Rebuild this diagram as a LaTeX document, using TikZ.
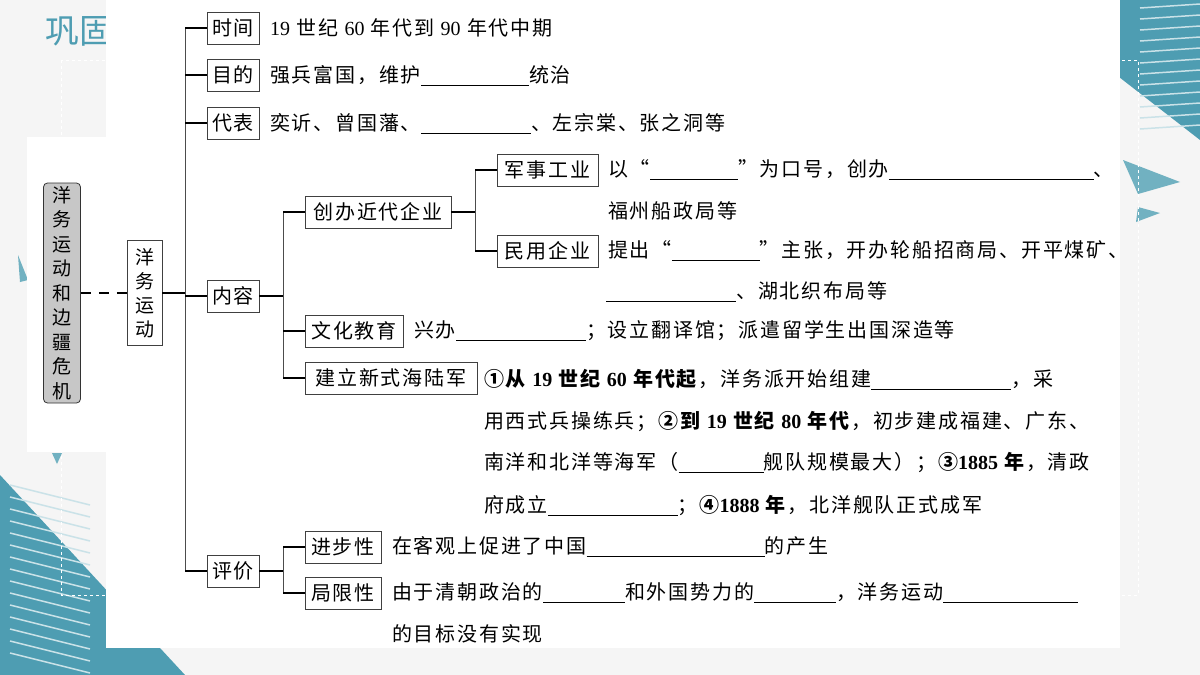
\documentclass[tikz,border=0pt]{standalone}
\usepackage{fontspec}
\setmainfont{Noto Sans CJK SC}[LetterSpace=9]
\newfontfamily\numfont{Liberation Serif}
\newfontfamily\titlefont{Noto Sans CJK SC}
\begin{document}
\begin{tikzpicture}[x=1pt,y=-1pt,
  lbl/.style={draw=black!75,line width=0.7pt,fill=white,inner sep=0pt,minimum height=32pt,font=\fontsize{20}{20}\selectfont},
  txt/.style={anchor=west,inner sep=0pt,font=\fontsize{20}{20}\selectfont},
  conn/.style={line width=1.2pt},
  trunk/.style={line width=0.6pt,black!70}]
\newcommand{\blk}[1]{\rule[-3pt]{#1pt}{0.5pt}}
\newcommand{\nm}[1]{{\numfont #1}}
\definecolor{teal1}{HTML}{4E9DB2}
\useasboundingbox (0,0) rectangle (1200,675);
\fill[black!4] (0,0) rectangle (1200,675);
% decorations
\fill[teal1] (1110,0) -- (1200,0) -- (1200,140) -- (1110,70) -- cycle;
\foreach \i in {0,...,11} \draw[white!70!teal1,line width=1.5pt] (1140,8+\i*11) -- (1200,4+\i*11);
\fill[teal1!80] (1123,160) -- (1180,182) -- (1138,194) -- cycle;
\fill[teal1!80] (1138,207) -- (1160,213) -- (1136,222) -- cycle;
\fill[teal1] (0,475) -- (0,675) -- (185,675) -- cycle;
\foreach \i in {0,...,14} \draw[white!70!teal1,line width=1.5pt] (10,485+\i*12) -- (90,505+\i*12);
\fill[teal1!80] (18,255) -- (28,280) -- (20,282) -- cycle;
\fill[teal1!80] (52,453) -- (62,453) -- (57,464) -- cycle;
\fill[teal1!80] (237,625) -- (250,625) -- (243,640) -- cycle;
\draw[white,line width=1pt,dashed] (61,60) rectangle (1138,595);
\node[anchor=west,text=teal1,inner sep=0pt,font=\titlefont\fontsize{34}{34}\selectfont] (title) at (45,31) {巩固};
\fill[white] (106,0) rectangle (1120,648);
\fill[white] (27,137) rectangle (106,452);
% root
\node[draw=black!80,line width=0.8pt,fill=black!22,rounded corners=4pt,minimum width=37pt,minimum height=220pt,inner sep=0pt,align=center,font=\fontsize{19}{24.5}\selectfont] (root) at (62,293) {洋\\务\\运\\动\\和\\边\\疆\\危\\机};
\node[lbl,minimum width=35pt,minimum height=105pt,align=center,font=\fontsize{19}{24}\selectfont] (yw) at (144.5,293) {洋\\务\\运\\动};
\draw[conn,dash pattern=on 10pt off 8pt] (root.east) -- (yw.west);
\coordinate (t0) at (185,293);
\draw[conn] (yw.east) -- (t0);
\draw[trunk] (185,28) -- (185,571);
% level 2
\node[lbl,minimum width=52pt] (sj) at (233,28) {时间};
\node[lbl,minimum width=52pt] (md) at (233,75) {目的};
\node[lbl,minimum width=52pt] (db) at (233,123) {代表};
\node[lbl,minimum width=52pt] (nr) at (233,296) {内容};
\node[lbl,minimum width=52pt] (pj) at (233,571) {评价};
\foreach \n/\y in {sj/28,md/75,db/123,nr/296,pj/571}{\coordinate (c\n) at (185,\y); \draw[conn] (c\n) -- (\n.west);}
\node[txt] at (270,28) {\nm{19} 世纪 \nm{60} 年代到 \nm{90} 年代中期};
\node[txt] at (270,75) {强兵富国，维护\blk{108}统治};
\node[txt] at (270,123) {奕䜣、曾国藩、\blk{110}、左宗棠、张之洞等};
% content
\coordinate (nrj) at (283,296);
\draw[conn] (nr.east) -- (nrj);
\draw[trunk] (283,212) -- (283,378);
\node[lbl,minimum width=146pt] (qy) at (378,212) {创办近代企业};
\node[lbl,minimum width=98pt] (wh) at (354,331) {文化教育};
\node[lbl,minimum width=172pt] (hj) at (391,378) {建立新式海陆军};
\foreach \n/\y in {qy/212,wh/331,hj/378}{\coordinate (d\n) at (283,\y); \draw[conn] (d\n) -- (\n.west);}
\coordinate (qyj) at (475,212);
\draw[conn] (qy.east) -- (qyj);
\draw[trunk] (475,170) -- (475,251);
\node[lbl,minimum width=101pt] (js) at (547.5,170) {军事工业};
\node[lbl,minimum width=101pt] (my) at (547.5,251) {民用企业};
\foreach \n/\y in {js/170,my/251}{\coordinate (e\n) at (475,\y); \draw[conn] (e\n) -- (\n.west);}
\node[txt] at (608,170) {以“\blk{88}”为口号，创办\blk{205}、};
\node[txt] at (608,211) {福州船政局等};
\node[txt] at (608,251) {提出“\blk{88}”主张，开办轮船招商局、开平煤矿、};
\node[txt] at (606,292) {\blk{130}、湖北织布局等};
\node[txt] at (414,331) {兴办\blk{130}；设立翻译馆；派遣留学生出国深造等};
\node[txt] at (484,379) {\textbf{①从 \nm{19} 世纪 \nm{60} 年代起}，洋务派开始组建\blk{140}，采};
\node[txt] at (484,421) {用西式兵操练兵；\textbf{②到 \nm{19} 世纪 \nm{80} 年代}，初步建成福建、广东、};
\node[txt] at (484,463) {南洋和北洋等海军（\blk{85}舰队规模最大）；\textbf{③\nm{1885} 年}，清政};
\node[txt] at (484,506) {府成立\blk{130}；\textbf{④\nm{1888} 年}，北洋舰队正式成军};
% evaluation
\coordinate (pjj) at (283,571);
\draw[conn] (pj.east) -- (pjj);
\draw[trunk] (283,547) -- (283,593);
\node[lbl,minimum width=76pt] (jb) at (343,547) {进步性};
\node[lbl,minimum width=76pt] (jx) at (343,593) {局限性};
\foreach \n/\y in {jb/547,jx/593}{\coordinate (f\n) at (283,\y); \draw[conn] (f\n) -- (\n.west);}
\node[txt] at (392,547) {在客观上促进了中国\blk{178}的产生};
\node[txt] at (392,593) {由于清朝政治的\blk{82}和外国势力的\blk{82}，洋务运动\blk{135}};
\node[txt] at (392,634) {的目标没有实现};
\end{tikzpicture}
\end{document}
